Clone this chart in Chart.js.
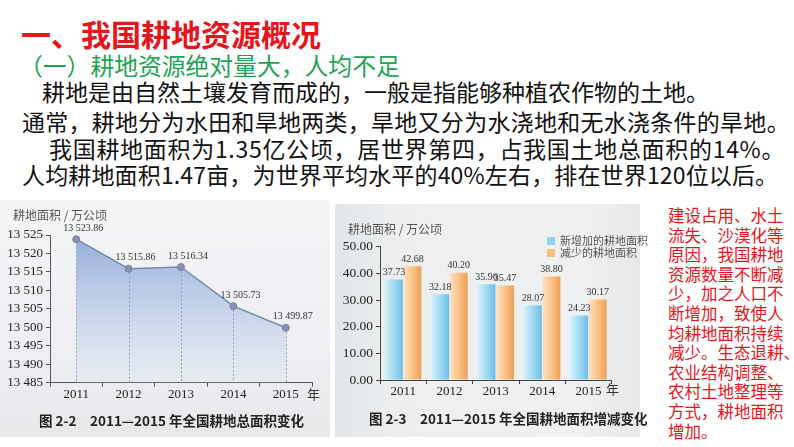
<!DOCTYPE html>
<html><head><meta charset="utf-8">
<script src="https://cdn.jsdelivr.net/npm/chart.js@4.4.1/dist/chart.umd.min.js"></script>
<style>
html,body{margin:0;padding:0;}
body{width:794px;height:447px;background:#fff;position:relative;overflow:hidden;font-family:"Noto Sans CJK SC","Noto Sans",sans-serif;}
.abs{position:absolute;white-space:nowrap;}
#title{left:21px;top:13px;font-size:30px;font-weight:bold;color:#e8141b;line-height:40px;}
#sub{left:19px;top:50px;font-size:23.8px;color:#1ea352;line-height:30px;}
.bl{font-size:23px;color:#111;line-height:29px;}
#red{left:668px;top:206px;font-size:16.5px;line-height:19.6px;color:#e8141b;white-space:nowrap;}
#p1{left:0;top:200px;width:330px;height:237px;background:linear-gradient(#f4f5f7,#eceef1 70%,#e6e8ea);}
#p2{left:335px;top:204px;width:305px;height:233px;background:linear-gradient(90deg,#e3e6e8,#eceef0 20%,#eef0f1 80%,#e6e8ea);}
.ct{font-size:12px;color:#555;}
.cap{font-size:13.5px;font-weight:bold;color:#222;}
.yr{font-size:13px;color:#333;}
.lg{font-size:11px;color:#555;line-height:12px;}
.sw{display:inline-block;width:8px;height:8px;margin-right:5px;vertical-align:-0px;}
canvas{position:absolute;}
</style>
</head><body>
<div id="p1" class="abs"></div>
<div id="p2" class="abs"></div>
<div id="title" class="abs">一、我国耕地资源概况</div>
<div id="sub" class="abs">（一）耕地资源绝对量大，人均不足</div>
<div class="abs bl" style="left:42px;top:76.5px;">耕地是由自然土壤发育而成的，一般是指能够种植农作物的土地。</div>
<div class="abs bl" style="left:22px;top:106.5px;letter-spacing:0.27px;">通常，耕地分为水田和旱地两类，旱地又分为水浇地和无水浇条件的旱地。</div>
<div class="abs bl" style="left:49px;top:133.5px;letter-spacing:0.7px;">我国耕地面积为1.35亿公顷，居世界第四，占我国土地总面积的14%。</div>
<div class="abs bl" style="left:22px;top:159.5px;letter-spacing:0.15px;">人均耕地面积1.47亩，为世界平均水平的40%左右，排在世界120位以后。</div>
<div id="red" class="abs">建设占用、水土<br>流失、沙漠化等<br>原因，我国耕地<br>资源数量不断减<br>少，加之人口不<br>断增加，致使人<br>均耕地面积持续<br>减少。生态退耕、<br>农业结构调整、<br>农村土地整理等<br>方式，耕地面积<br>增加。</div>

<canvas id="c1" width="330" height="235" style="left:0;top:200px;"></canvas>
<canvas id="c2" width="305" height="235" style="left:335px;top:200px;"></canvas>

<div class="abs ct" style="left:13px;top:206px;">耕地面积 / 万公顷</div>
<div class="abs yr" style="left:307px;top:384px;">年</div>
<div class="abs cap" style="left:39px;top:410px;">图 2-2　2011—2015 年全国耕地总面积变化</div>

<div class="abs ct" style="left:348px;top:220px;">耕地面积 / 万公顷</div>
<div class="abs yr" style="left:606px;top:379px;">年</div>
<div class="abs cap" style="left:369px;top:408px;">图 2-3　2011—2015 年全国耕地面积增减变化</div>
<div class="abs lg" style="left:547px;top:234px;"><span class="sw" style="background:#8fd3f0"></span>新增加的耕地面积<br><span class="sw" style="background:#f8c080"></span>减少的耕地面积</div>

<script>
const years = ['2011', '2012', '2013', '2014', '2015'];
const totalArea = [13523.86, 13515.86, 13516.34, 13505.73, 13499.87];
const addedArea = [37.73, 32.18, 35.96, 28.07, 24.23];
const lostArea = [42.68, 40.20, 35.47, 38.80, 30.17];
const totalAxis = [13485, 13525, 5];
const changeAxis = [0, 50, 10];

function fmtSpace(v, dec) {
  const s = Number(v).toFixed(dec);
  const parts = s.split('.');
  parts[0] = parts[0].replace(/\B(?=(\d{3})+(?!\d))/g, ' ');
  return parts.join('.');
}
const serif = 'Liberation Serif';

const deco1 = {
  id: 'deco1',
  afterDatasetsDraw(chart) {
    const ctx = chart.ctx;
    const meta = chart.getDatasetMeta(0);
    const bottom = chart.chartArea.bottom;
    ctx.save();
    ctx.strokeStyle = '#8ea0c6';
    ctx.lineWidth = 1;
    ctx.setLineDash([2, 2]);
    meta.data.forEach(p => {
      ctx.beginPath();
      ctx.moveTo(Math.round(p.x) + 0.5, p.y + 4);
      ctx.lineTo(Math.round(p.x) + 0.5, bottom);
      ctx.stroke();
    });
    ctx.setLineDash([]);
    ctx.fillStyle = '#333';
    ctx.font = '10px ' + serif;
    ctx.textAlign = 'center';
    ctx.textBaseline = 'bottom';
    meta.data.forEach((p, i) => {
      ctx.fillText(fmtSpace(totalArea[i], 2), p.x + 7, p.y - 6);
    });
    ctx.restore();
  }
};

new Chart(document.getElementById('c1'), {
  type: 'line',
  data: {
    labels: years,
    datasets: [{
      data: totalArea,
      borderColor: '#7a88ad',
      borderWidth: 1.5,
      tension: 0,
      fill: 'start',
      backgroundColor: (c) => {
        const ch = c.chart, a = ch.chartArea;
        if (!a) return 'rgba(140,165,210,0.5)';
        const g = ch.ctx.createLinearGradient(0, a.top, 0, a.bottom);
        g.addColorStop(0, 'rgba(130,160,212,0.85)');
        g.addColorStop(0.55, 'rgba(170,192,228,0.55)');
        g.addColorStop(1, 'rgba(220,230,242,0.35)');
        return g;
      },
      pointRadius: 3.5,
      pointBackgroundColor: '#8990b2',
      pointBorderColor: '#7b80a4',
      pointBorderWidth: 1
    }]
  },
  options: {
    responsive: false, animation: false, devicePixelRatio: 1,
    layout: { padding: { top: 35, right: 18, left: 0, bottom: 0 } },
    plugins: { legend: { display: false }, tooltip: { enabled: false } },
    scales: {
      x: {
        offset: true,
        grid: { display: true, offset: true, drawOnChartArea: false, tickLength: 4, color: '#555' },
        border: { color: '#555', width: 1 },
        ticks: { font: { family: serif, size: 13 }, color: '#222', padding: 0 },
        afterFit(s) { s.height = 52.3; }
      },
      y: {
        min: totalAxis[0], max: totalAxis[1],
        ticks: { stepSize: totalAxis[2], autoSkip: false, callback: v => fmtSpace(v, 0), font: { family: serif, size: 13 }, color: '#222', padding: 3 },
        grid: { drawOnChartArea: false, tickLength: 4, color: '#555' },
        border: { color: '#555', width: 1 },
        afterFit(s) { s.width = 50; }
      }
    }
  },
  plugins: [deco1]
});

const catPct = 0.8, barPct = 0.96;
function barGrad(stops, dsIdx) {
  return (c) => {
    const ch = c.chart, xs = ch.scales && ch.scales.x;
    if (!xs || !ch.chartArea || !xs.width) return stops[1];
    const center = xs.getPixelForValue(c.dataIndex);
    const cat = xs.width / years.length;
    const slot = cat * catPct / 2;
    const bw = slot * barPct;
    const bc = dsIdx === 0 ? center - slot / 2 : center + slot / 2;
    const g = ch.ctx.createLinearGradient(bc - bw / 2, 0, bc + bw / 2, 0);
    g.addColorStop(0, stops[0]);
    g.addColorStop(0.45, stops[1]);
    g.addColorStop(1, stops[2]);
    return g;
  };
}

const deco2 = {
  id: 'deco2',
  afterDatasetsDraw(chart) {
    const ctx = chart.ctx;
    ctx.save();
    ctx.fillStyle = '#333';
    ctx.font = '10px ' + serif;
    ctx.textAlign = 'center';
    ctx.textBaseline = 'bottom';
    chart.data.datasets.forEach((ds, di) => {
      chart.getDatasetMeta(di).data.forEach((el, i) => {
        ctx.fillText(ds.data[i].toFixed(2), el.x, el.y - 2);
      });
    });
    ctx.restore();
  }
};

new Chart(document.getElementById('c2'), {
  type: 'bar',
  data: {
    labels: years,
    datasets: [
      { label: '新增加的耕地面积', data: addedArea, backgroundColor: barGrad(['#d4f1fc', '#a7ddf4', '#6fbde5'], 0), categoryPercentage: catPct, barPercentage: barPct },
      { label: '减少的耕地面积', data: lostArea, backgroundColor: barGrad(['#fde3c0', '#fbc68c', '#f09d55'], 1), categoryPercentage: catPct, barPercentage: barPct }
    ]
  },
  options: {
    responsive: false, animation: false, devicePixelRatio: 1,
    layout: { padding: { top: 46.7, right: 28.3, left: 0, bottom: 0 } },
    plugins: { legend: { display: false }, tooltip: { enabled: false } },
    scales: {
      x: {
        grid: { display: true, offset: true, drawOnChartArea: false, tickLength: 4, color: '#444' },
        border: { color: '#444', width: 1 },
        ticks: { font: { family: serif, size: 13 }, color: '#222', padding: 0 },
        afterFit(s) { s.height = 55; }
      },
      y: {
        min: changeAxis[0], max: changeAxis[1],
        ticks: { stepSize: changeAxis[2], autoSkip: false, callback: v => v.toFixed(2), font: { family: serif, size: 13.5 }, color: '#222', padding: 3 },
        grid: { drawOnChartArea: false, tickLength: 4, color: '#444' },
        border: { color: '#444', width: 1 },
        afterFit(s) { s.width = 45; }
      }
    }
  },
  plugins: [deco2]
});
</script>
</body></html>
